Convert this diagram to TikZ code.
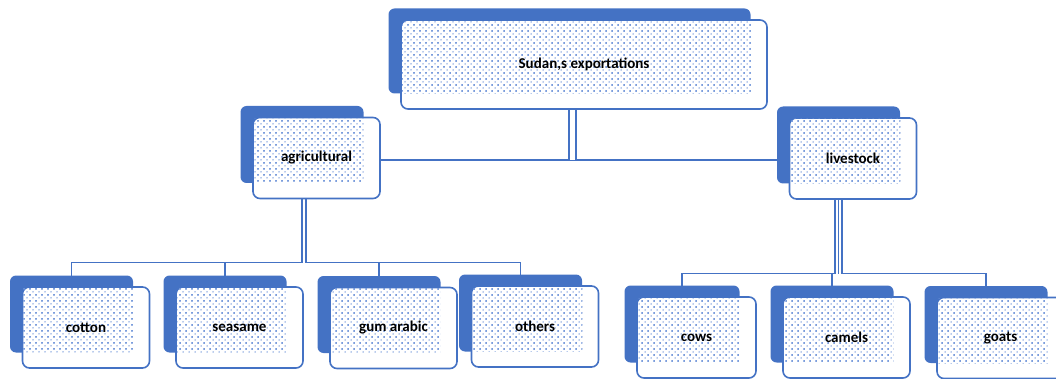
\documentclass[tikz,border=0pt]{standalone}
\usepackage{fontspec}
\setmainfont{Carlito}
\usepackage{tikz}
\usetikzlibrary{patterns}
\usetikzlibrary{backgrounds}
\definecolor{cardblue}{HTML}{4472C4}
\definecolor{dotblue}{HTML}{7196DA}
\pgfdeclarepatternformonly{sparse dots}{\pgfqpoint{-1pt}{-1pt}}{\pgfqpoint{7pt}{7pt}}{\pgfqpoint{6pt}{6pt}}{
	\pgfpathcircle{\pgfqpoint{0pt}{0pt}}{.75pt}
	\pgfpathcircle{\pgfqpoint{6pt}{0pt}}{.75pt}
	\pgfpathcircle{\pgfqpoint{0pt}{6pt}}{.75pt}
	\pgfpathcircle{\pgfqpoint{6pt}{6pt}}{.75pt}
	\pgfpathcircle{\pgfqpoint{3pt}{3pt}}{.75pt}
	\pgfusepath{fill}
}
\tikzset{
	card back/.style={fill=cardblue,rounded corners=6pt,inner sep=0pt,outer sep=0pt},
	card front/.style={draw=cardblue,fill=white,line width=1.6pt,rounded corners=7pt,inner sep=0pt},
	card dots/.style={pattern=sparse dots,pattern color=dotblue},
	card text/.style={font=\bfseries\fontsize{15}{18}\selectfont},
	link/.style={draw=cardblue,line width=1.6pt},
	double link/.style={link,double=white,double distance=#1},
	card/.pic={
		\tikzset{%
			/card/.cd,
			#1
		}
		\node[card back,minimum width=\cardw-4,minimum height=\cardh-4] (-back) at (-14.5,-13.5) {};
		\node[card front,minimum width=\cardw,minimum height=\cardh] (-box) at (0,0) {};
		\fill[card dots] (-\cardw/2+1,-\cardh/2+1) rectangle (\cardw/2-16.5,\cardh/2-15.5);
		\node[card text] (-text) at (0,0) {\cardtitle};
	},
	/card/.search also={/tikz},
	/card/.cd,
	width/.store in=\cardw,
	height/.store in=\cardh,
	title/.store in=\cardtitle,
	width=127,
	height=81,
	title={},
}

\begin{document}
\begin{tikzpicture}[x=1pt,y=-1pt]
		\useasboundingbox (0,0) rectangle (1056,379);
		\clip (0,0) rectangle (1056,379);
		\pic (sudan) at (584,64.5) {card={width=366,height=89,title={Sudan,s exportations}}};
		\pic (agri) at (316.5,158) {card={title=agricultural}};
		\pic (live) at (853,158.5) {card={title=livestock}};
		\pic (cotton) at (86,327.5) {card={title=cotton}};
		\pic (seasame) at (239.5,327.5) {card={title=seasame}};
		\pic (gum) at (393.5,328) {card={title=gum arabic}};
		\pic (others) at (535,326.5) {card={title=others}};
		\pic (cows) at (696.5,337.5) {card={width=119,title=cows}};
		\pic (camels) at (846.5,337.5) {card={title=camels}};
		\pic (goats) at (1000.5,338) {card={title=goats}};
		\begin{scope}[on background layer]
			% top level
			\draw[link] ([yshift=-2pt]agri-box.center) -- ([yshift=-2pt]agri-box.center -| live-box.center);
			\draw[double link=5.2pt] ([xshift=3pt]sudan-back.center) -- ([xshift=3pt,yshift=-2pt]sudan-back.center |- agri-box.center);
			% agricultural
			\coordinate (agri bus) at ([yshift=13pt]cotton-back.north);
			\draw[link] (cotton-back.center) -- (agri bus) -| (others-back.center);
			\draw[link] (seasame-back.center) -- (seasame-back.center |- agri bus);
			\draw[link] (gum-back.center) -- (gum-back.center |- agri bus);
			\draw[double link=2.5pt] ([xshift=2pt]agri-back.center) -- ([xshift=2pt]agri-back.center |- agri bus);
			% livestock
			\coordinate (live bus) at ([yshift=12pt]cows-back.north);
			\draw[link] (cows-back.center) -- (live bus) -| (goats-back.center);
			\draw[link] (camels-back.center) -- (camels-back.center |- live bus);
			\draw[double link=5.8pt,line width=1.2pt] (live-back.center) -- (live-back.center |- live bus);
			\draw[link,line width=1.2pt] (live-back.center) -- (live-back.center |- live bus);
		\end{scope}
	\end{tikzpicture}
\end{document}
